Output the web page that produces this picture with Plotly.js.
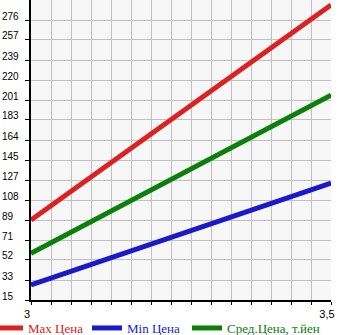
<!DOCTYPE html>
<html><head><meta charset="utf-8">
<script src="https://cdn.plot.ly/plotly-3.0.1.min.js"></script>
<style>body{margin:0;padding:0;background:#fff}#c{width:345px;height:335px}</style>
</head><body><div id="c"></div>
<script>
var xVals = [3, 3.5];
var maxPrice = [89.6, 290];
var minPrice = [29, 124];
var avgPrice = [58.5, 206];
var yTickVals = [15, 33.64, 52.29, 70.93, 89.57, 108.21, 126.86, 145.5, 164.14, 182.79, 201.43, 220.07, 238.71, 257.36, 276];
var yTickText = ["15","33","52","71","89","108","127","145","164","183","201","220","239","257","276"];
var xTickVals = [];
var xTickText = [];
for (var i = 0; i <= 15; i++) {
  xTickVals.push(3 + i * 0.5 / 15);
  xTickText.push(i === 0 ? "3" : (i === 15 ? "3,5" : ""));
}
var names = ["Max Цена", "Min Цена", "Сред.Цена, т.йен"];
var colors = ["#dd2020", "#1a1acc", "#0a800a"];
var legendIds = ["legend", "legend2", "legend3"];
var series = [maxPrice, minPrice, avgPrice];
var traces = series.map(function (s, k) {
  return {
    x: xVals, y: s, type: "scatter", mode: "lines", legend: legendIds[k],
    name: '<span style="color:' + colors[k] + '">' + names[k] + '</span>',
    line: {color: colors[k], width: 5}
  };
});
var yLabelAnn = yTickVals.map(function (v, k) {
  return {x: -31 / 300, xref: "paper", xanchor: "left", y: v, yref: "y", yanchor: "middle",
    yshift: 4, text: yTickText[k], showarrow: false,
    font: {family: "Liberation Sans", size: 10, color: "#000"}};
});
function leg(xpx) {
  return {orientation: "h", xref: "paper", yref: "paper", x: (xpx - 31) / 300, xanchor: "left",
    y: -28 / 300, yanchor: "middle", font: {family: "Liberation Serif", size: 13},
    itemwidth: 30, bgcolor: "rgba(0,0,0,0)"};
}
var layout = {
  width: 345, height: 335,
  margin: {l: 31, r: 14, t: 0, b: 35, autoexpand: false},
  paper_bgcolor: "#ffffff", plot_bgcolor: "#f7f7f7",
  showlegend: true,
  annotations: yLabelAnn,
  legend: leg(-12), legend2: leg(87), legend3: leg(187),
  xaxis: {range: [3, 3.5], tickvals: xTickVals, ticktext: xTickText, showgrid: true,
    gridcolor: "#c0c0c0", gridwidth: 1, zeroline: false, showline: true, linecolor: "#000",
    linewidth: 2, ticks: "outside", ticklen: 3, tickcolor: "#000", ticklabelshift: -4,
    tickfont: {family: "Liberation Sans", size: 11, color: "#000"}, fixedrange: true},
  yaxis: {range: [15, 294.64], tickvals: yTickVals, showticklabels: false, showgrid: true,
    gridcolor: "#c0c0c0", gridwidth: 1, zeroline: false, showline: true, linecolor: "#000",
    linewidth: 2, ticks: "outside", ticklen: 4, tickcolor: "#000", fixedrange: true}
};
Plotly.newPlot("c", traces, layout, {displayModeBar: false, staticPlot: true});
</script></body></html>
